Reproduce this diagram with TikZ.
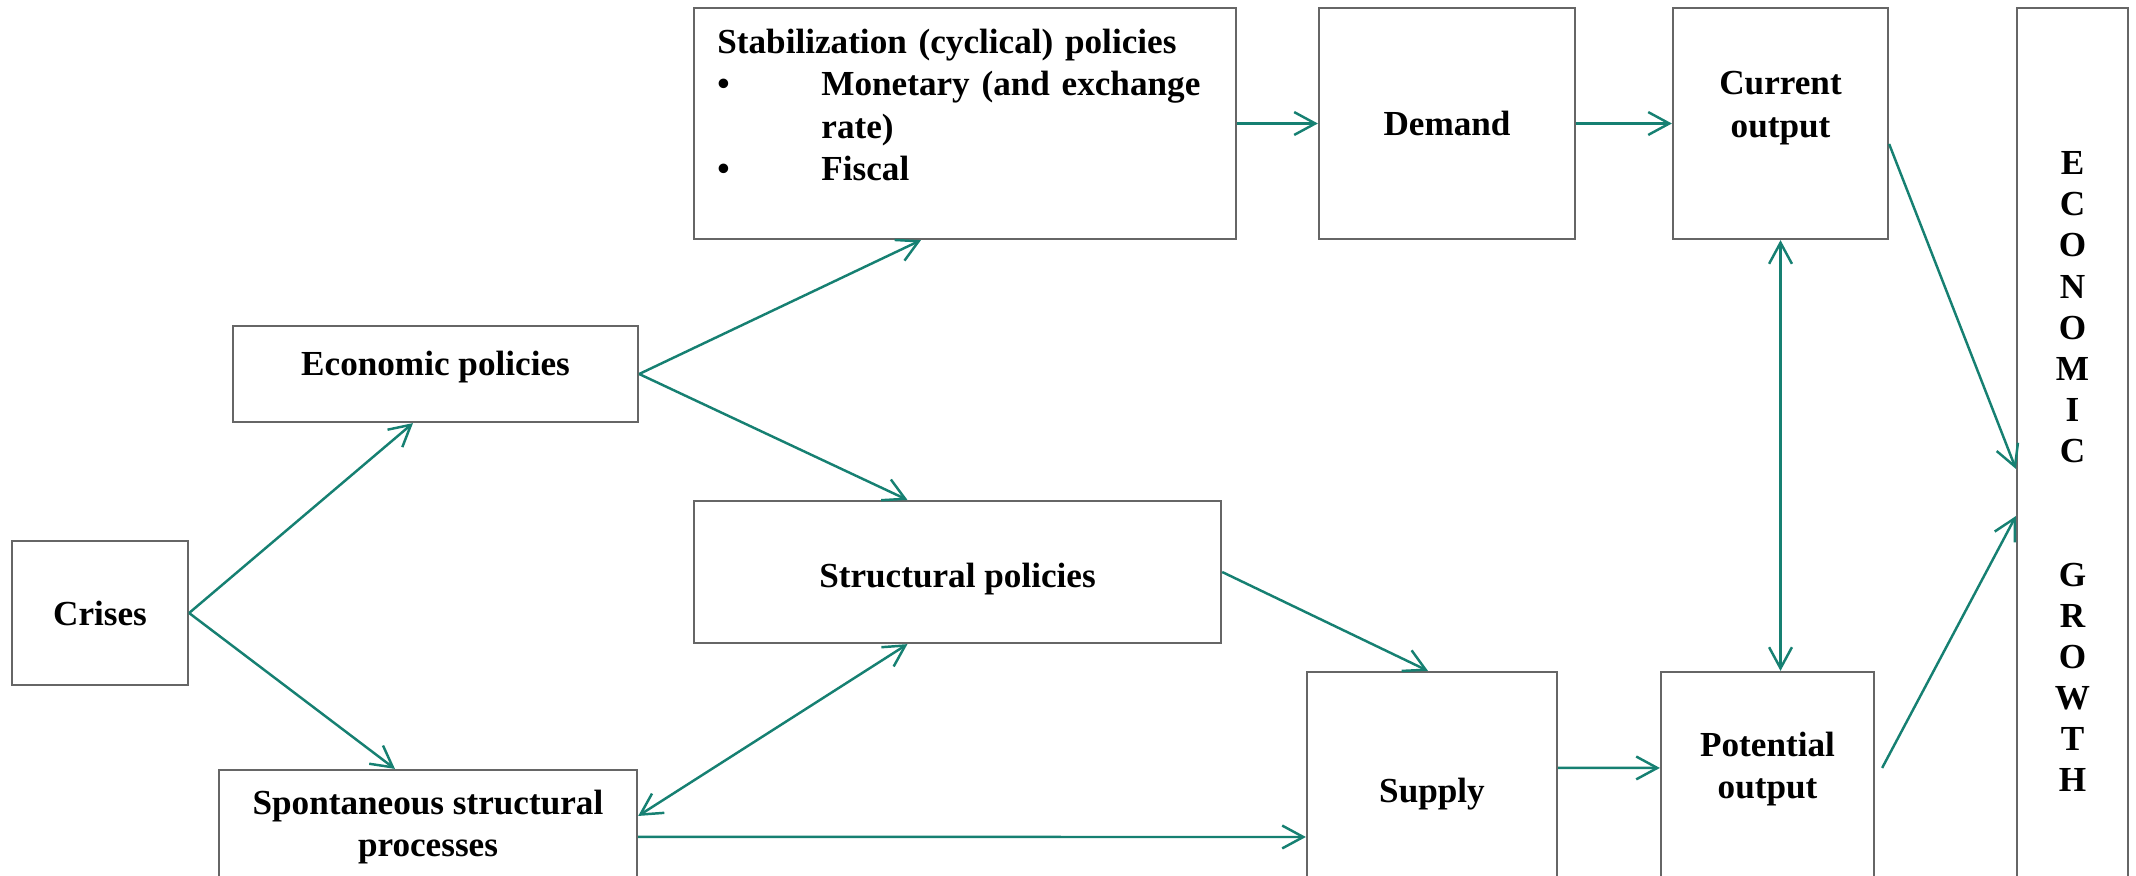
\documentclass[tikz,border=0pt]{standalone}
\usepackage{fontspec}
\setmainfont{Liberation Serif}
\usepackage{xcolor}
\usepackage{tikz}
\usetikzlibrary{arrows.meta}

\definecolor{linkteal}{RGB}{22,128,114}
\newcommand{\liftup}[2]{\raisebox{#1}[\height][\depth]{#2}}

\begin{document}
\begin{tikzpicture}[
    x=0.01cm, y=-0.01cm,
    >={Straight Barb[length=6pt, width=6.5pt]},
    font=\bfseries\fontsize{10}{12}\selectfont,
    block/.style={draw=black!60, line width=0.6pt, rectangle, align=center, inner sep=0pt},
    link/.style={->, draw=linkteal, line width=0.7pt},
    twoway/.style={<->, draw=linkteal, line width=0.7pt}
]
\useasboundingbox (0,0) rectangle (2136,875);
\clip (0,0) rectangle (2136,875);

% Boxes
\node[block, minimum width=1.76cm, minimum height=1.44cm] (crises) at (100,613) {Crises};
\node[block, minimum width=4.05cm, minimum height=0.96cm] (econ) at (435.5,374) {\liftup{0.065cm}{Economic policies}};
\node[block, minimum width=4.18cm, minimum height=1.14cm] (spont) at (428,827) {Spontaneous structural\\processes};
\node[block, minimum width=5.42cm, minimum height=2.31cm, text width=4.95cm, align=left] (stab) at (965,123.5)
    {\liftup{0.15cm}{\begin{tabular}{@{}l@{}}
     Stabilization (cyclical) policies\\
     \makebox[1.04cm][l]{\textbullet}Monetary (and exchange\\
     \hspace*{1.04cm}rate)\\
     \makebox[1.04cm][l]{\textbullet}Fiscal
     \end{tabular}}};
\node[block, minimum width=5.27cm, minimum height=1.42cm] (struct) at (957.5,572) {\liftup{-0.07cm}{Structural policies}};
\node[block, minimum width=2.56cm, minimum height=2.31cm] (demand) at (1447,123.5) {Demand};
\node[block, minimum width=2.50cm, minimum height=2.44cm] (supply) at (1432,794) {Supply};
\node[block, minimum width=2.15cm, minimum height=2.31cm] (curout) at (1780.5,123.5)
    {\liftup{0.16cm}{\begin{tabular}{@{}c@{}}Current\\output\end{tabular}}};
\node[block, minimum width=2.13cm, minimum height=2.28cm] (potout) at (1767.5,786)
    {\liftup{0.17cm}{\begin{tabular}{@{}c@{}}Potential\\output\end{tabular}}};
\node[block, minimum width=1.11cm, minimum height=9.34cm, font=\bfseries\fontsize{10}{11.7}\selectfont] (eg) at (2072.5,475)
    {\begin{tabular}{@{}c@{}}E\\C\\O\\N\\O\\M\\I\\C\\ \\ \\G\\R\\O\\W\\T\\H\end{tabular}};

% Connectors
\draw[link] (crises.east) -- ([xshift=-0.225cm]econ.south);
\draw[link] (crises.east) -- ([xshift=-0.33cm]spont.north);
\draw[link] (econ.east) -- ([xshift=-0.44cm]stab.south);
\draw[link] (econ.east) -- ([xshift=-0.50cm]struct.north);
\draw[twoway] ([xshift=-0.50cm]struct.south) -- ([yshift=-0.47cm]spont.north east);
\draw[link] ([yshift=-0.68cm]spont.north east) -- ([yshift=-1.66cm]supply.north west);
\draw[link] (struct.east) -- ([xshift=-0.04cm]supply.north);
\draw[link] (stab.east) -- (demand.west);
\draw[link] (demand.east) -- (curout.west);
\draw[twoway] (curout.south) -- (curout.south |- potout.north);
\draw[link] ([yshift=-0.97cm]supply.north east) -- ([yshift=-0.97cm]potout.north west);
\draw[link] ([yshift=-1.37cm]curout.north east) -- ([yshift=-4.62cm]eg.north west);
\draw[link] ([xshift=0.07cm, yshift=-0.97cm]potout.north east) -- ([yshift=-5.09cm]eg.north west);
\end{tikzpicture}
\end{document}
